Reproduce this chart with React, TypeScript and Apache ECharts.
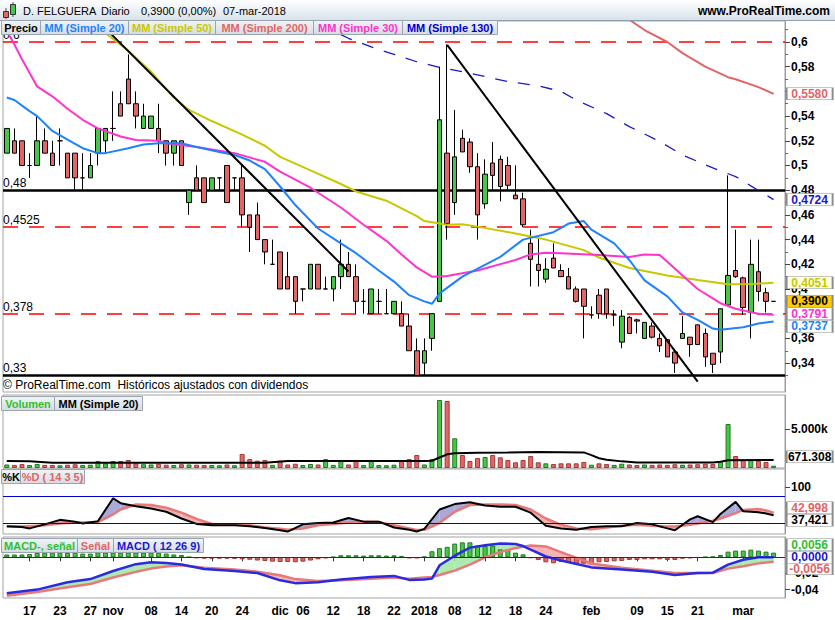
import React, { useEffect, useRef } from "react";
import * as echarts from "echarts";

const FONT = "'Liberation Sans', Arial, Helvetica, sans-serif";

// ---- trading days (Oct 12 2017 .. Mar 7 2018) ----
const OCT_DAYS = [12, 13, 16, 17, 18, 19, 20, 23, 24, 25, 26, 27, 30, 31];
const NOV_DAYS = [1, 2, 3, 6, 7, 8, 9, 10, 13, 14, 15, 16, 17, 20, 21, 22, 23, 24, 27, 28, 29, 30];
const DEC_DAYS = [1, 4, 5, 6, 7, 8, 11, 12, 13, 14, 15, 18, 19, 20, 21, 22, 27, 28, 29];
const JAN_DAYS = [2, 3, 4, 5, 8, 9, 10, 11, 12, 15, 16, 17, 18, 19, 22, 23, 24, 25, 26, 29, 30, 31];
const FEB_DAYS = [1, 2, 5, 6, 7, 8, 9, 12, 13, 14, 15, 16, 19, 20, 21, 22, 23, 26, 27, 28];
const MAR_DAYS = [1, 2, 5, 6, 7];

const pad = (d: number) => (d < 10 ? "0" + d : "" + d);
const DATES: string[] = [
  ...OCT_DAYS.map((d) => `2017-10-${pad(d)}`),
  ...NOV_DAYS.map((d) => `2017-11-${pad(d)}`),
  ...DEC_DAYS.map((d) => `2017-12-${pad(d)}`),
  ...JAN_DAYS.map((d) => `2018-01-${pad(d)}`),
  ...FEB_DAYS.map((d) => `2018-02-${pad(d)}`),
  ...MAR_DAYS.map((d) => `2018-03-${pad(d)}`),
];
const CATEGORIES = [...DATES, ""];

const AXIS_LABELS: [string, string][] = [
  ["2017-10-17", "17"], ["2017-10-23", "23"], ["2017-10-27", "27"], ["2017-11-01", "nov"],
  ["2017-11-08", "08"], ["2017-11-14", "14"], ["2017-11-20", "20"], ["2017-11-24", "24"],
  ["2017-12-01", "dic"], ["2017-12-06", "06"], ["2017-12-12", "12"], ["2017-12-18", "18"],
  ["2017-12-22", "22"], ["2018-01-02", "2018"], ["2018-01-08", "08"], ["2018-01-12", "12"],
  ["2018-01-18", "18"], ["2018-01-24", "24"], ["2018-02-01", "feb"], ["2018-02-09", "09"],
  ["2018-02-15", "15"], ["2018-02-21", "21"], ["2018-03-01", "mar"],
];

// ---- price ----
const OPENS = [
  0.51, 0.52, 0.52, 0.50, 0.50, 0.52, 0.51, 0.52, 0.51, 0.51,
  0.49, 0.49, 0.51, 0.52, 0.53, 0.55, 0.57, 0.55, 0.53, 0.53,
  0.53, 0.52, 0.51, 0.52, 0.47, 0.49, 0.49, 0.48, 0.49, 0.50,
  0.49, 0.49, 0.46, 0.46, 0.44, 0.42, 0.43, 0.41, 0.41, 0.40,
  0.40, 0.42, 0.40, 0.40, 0.41, 0.42, 0.41, 0.39, 0.38, 0.39,
  0.38, 0.38, 0.38, 0.37, 0.35, 0.34, 0.36, 0.39, 0.51, 0.47,
  0.522, 0.519, 0.499, 0.469, 0.502, 0.505, 0.50, 0.476, 0.473, 0.437,
  0.420, 0.408, 0.425, 0.415, 0.410, 0.40, 0.40, 0.379, 0.395, 0.40,
  0.379, 0.357, 0.377, 0.375, 0.36, 0.37, 0.36, 0.359, 0.349, 0.36,
  0.361, 0.371, 0.364, 0.348, 0.349, 0.387, 0.415, 0.409, 0.381, 0.414,
  0.397, 0.39,
];
const HIGHS = [
  0.53, 0.53, 0.52, 0.51, 0.54, 0.53, 0.52, 0.53, 0.51, 0.51,
  0.51, 0.51, 0.53, 0.53, 0.56, 0.56, 0.59, 0.56, 0.55, 0.54,
  0.55, 0.52, 0.52, 0.52, 0.48, 0.50, 0.49, 0.49, 0.49, 0.50,
  0.49, 0.50, 0.46, 0.47, 0.44, 0.44, 0.43, 0.43, 0.41, 0.40,
  0.42, 0.42, 0.41, 0.41, 0.44, 0.43, 0.42, 0.40, 0.40, 0.40,
  0.40, 0.39, 0.39, 0.38, 0.36, 0.36, 0.38, 0.58, 0.598, 0.545,
  0.529, 0.522, 0.51, 0.505, 0.519, 0.508, 0.507, 0.50, 0.478, 0.448,
  0.442, 0.425, 0.437, 0.420, 0.417, 0.402, 0.40, 0.386, 0.40, 0.40,
  0.383, 0.383, 0.378, 0.376, 0.373, 0.373, 0.364, 0.359, 0.349, 0.378,
  0.361, 0.371, 0.368, 0.348, 0.384, 0.492, 0.448, 0.41, 0.44, 0.44,
  0.401, 0.39,
];
const LOWS = [
  0.51, 0.51, 0.50, 0.49, 0.50, 0.51, 0.50, 0.50, 0.49, 0.48,
  0.48, 0.49, 0.50, 0.51, 0.52, 0.54, 0.55, 0.53, 0.53, 0.53,
  0.51, 0.50, 0.50, 0.50, 0.46, 0.48, 0.47, 0.48, 0.48, 0.47,
  0.48, 0.45, 0.43, 0.44, 0.42, 0.42, 0.40, 0.40, 0.38, 0.39,
  0.40, 0.40, 0.40, 0.39, 0.40, 0.41, 0.38, 0.38, 0.38, 0.38,
  0.38, 0.38, 0.37, 0.35, 0.33, 0.33, 0.35, 0.39, 0.44, 0.46,
  0.511, 0.494, 0.44, 0.465, 0.48, 0.471, 0.48, 0.473, 0.45, 0.402,
  0.402, 0.405, 0.417, 0.410, 0.40, 0.389, 0.36, 0.376, 0.376, 0.376,
  0.37, 0.352, 0.364, 0.364, 0.36, 0.36, 0.349, 0.345, 0.332, 0.36,
  0.345, 0.355, 0.337, 0.332, 0.34, 0.387, 0.409, 0.379, 0.36, 0.39,
  0.381, 0.39,
];
const CLOSES = [
  0.53, 0.51, 0.50, 0.50, 0.52, 0.51, 0.50, 0.52, 0.49, 0.49,
  0.49, 0.50, 0.53, 0.53, 0.53, 0.54, 0.55, 0.54, 0.54, 0.54,
  0.52, 0.51, 0.52, 0.50, 0.48, 0.48, 0.47, 0.49, 0.49, 0.47,
  0.49, 0.46, 0.45, 0.44, 0.43, 0.42, 0.40, 0.40, 0.39, 0.40,
  0.42, 0.40, 0.40, 0.41, 0.42, 0.41, 0.39, 0.39, 0.40, 0.39,
  0.38, 0.39, 0.37, 0.35, 0.33, 0.35, 0.38, 0.537, 0.453, 0.507,
  0.511, 0.499, 0.46, 0.493, 0.492, 0.483, 0.484, 0.473, 0.452, 0.424,
  0.415, 0.416, 0.417, 0.410, 0.40, 0.39, 0.386, 0.379, 0.38, 0.38,
  0.379, 0.378, 0.364, 0.374, 0.373, 0.361, 0.354, 0.345, 0.34, 0.364,
  0.355, 0.355, 0.345, 0.339, 0.384, 0.411, 0.410, 0.385, 0.42, 0.398,
  0.39, 0.39,
];

// moving averages, [day index, value]
const MM20 = [
  [0, 0.555], [1, 0.553], [3, 0.544], [4, 0.54], [6, 0.528], [8, 0.521], [10, 0.514], [12, 0.51],
  [13, 0.51], [16, 0.514], [18, 0.517], [20, 0.518], [23, 0.518], [25, 0.515], [28, 0.511],
  [30, 0.5085], [32, 0.504], [34, 0.497], [36, 0.483], [38, 0.468], [41, 0.449], [44, 0.437],
  [46, 0.429], [49, 0.415], [51, 0.406], [53, 0.395], [55, 0.39], [56, 0.388], [57, 0.3965],
  [60, 0.41], [65, 0.426], [68, 0.44], [72, 0.446], [74, 0.453], [76, 0.455], [77, 0.448],
  [80, 0.437], [82, 0.4235], [84, 0.407], [87, 0.394], [89, 0.381], [91, 0.375], [93, 0.368],
  [94, 0.367], [97, 0.369], [99, 0.372], [101, 0.3737],
];
const MM30 = [
  [0, 0.609], [1, 0.598], [2, 0.586], [4, 0.564], [6, 0.556], [8, 0.546], [10, 0.537], [12, 0.53],
  [15, 0.5235], [17, 0.5206], [20, 0.52], [21, 0.518], [25, 0.515], [30, 0.51], [34, 0.503],
  [36, 0.495], [40, 0.482], [44, 0.466], [47, 0.452], [50, 0.439], [52, 0.428], [54, 0.4175],
  [56, 0.41], [58, 0.4105], [62, 0.415], [67, 0.4235], [69, 0.428], [71, 0.4294], [73, 0.4289],
  [78, 0.4275], [82, 0.426], [84, 0.428], [86, 0.4275], [87, 0.422], [89, 0.411], [91, 0.4],
  [94, 0.3885], [96, 0.384], [99, 0.38], [101, 0.3791],
];
const MM50 = [
  [12, 0.612], [16, 0.593], [19, 0.576], [22, 0.555], [24, 0.545], [27, 0.536], [31, 0.525],
  [34, 0.516], [36, 0.507], [40, 0.496], [44, 0.485], [46, 0.479], [50, 0.4715], [54, 0.459],
  [55, 0.455], [58, 0.452], [60, 0.4524], [62, 0.4505], [67, 0.445], [71, 0.44], [76, 0.4315],
  [78, 0.4255], [82, 0.417], [87, 0.411], [91, 0.4073], [95, 0.4038], [98, 0.404], [101, 0.4051],
];
const MM130 = [
  [44, 0.606], [45, 0.603], [48, 0.596], [51, 0.59], [54, 0.584], [57, 0.5795], [60, 0.576],
  [63, 0.572], [66, 0.568], [70, 0.5645], [73, 0.56], [75, 0.553], [79, 0.542], [82, 0.5315],
  [86, 0.5195], [89, 0.5085], [93, 0.498], [96, 0.491], [98, 0.4835], [101, 0.4724],
];
const MM200 = [
  [82, 0.618], [84, 0.6097], [87, 0.6], [89, 0.591], [92, 0.58], [95, 0.5715], [96, 0.5698],
  [99, 0.5635], [101, 0.558],
];

const TREND_LINE_1 = [[13, 0.611], [45, 0.4142]];
const TREND_LINE_2 = [[58, 0.5976], [91, 0.325]];
const DASHED_LEVELS = [0.6, 0.4525, 0.378];
const DASHED_LABELS = ["0,6", "0,4525", "0,378"];
const SOLID_LEVELS = [0.48, 0.33];
const SOLID_LABELS = ["0,48", "0,33"];

// ---- volume (thousands) ----
const VOLUMES = [
  450, 400, 500, 380, 520, 400, 380, 350, 420, 480,
  380, 420, 900, 600, 900, 900, 1030, 600, 480, 450,
  550, 420, 380, 480, 450, 420, 380, 380, 350, 450,
  350, 1800, 1150, 940, 1030, 400, 940, 450, 550, 380,
  520, 450, 1150, 400, 940, 450, 1030, 380, 1030, 380,
  350, 420, 940, 1150, 1670, 450, 1150, 8720, 8590, 3810,
  1670, 900, 1280, 1410, 1670, 1370, 1030, 730, 1030, 1540,
  730, 600, 510, 600, 600, 600, 770, 420, 600, 500,
  400, 550, 450, 380, 450, 400, 450, 400, 480, 420,
  450, 480, 550, 500, 900, 5640, 1540, 1030, 1110, 940,
  770, 300,
];
const VOLUME_MA20 = [
  [0, 900], [3, 850], [6, 680], [34, 680], [37, 900], [55, 900], [56, 930], [57, 1350],
  [58, 1750], [59, 1880], [62, 1960], [66, 2000], [70, 2050], [76, 2000], [77, 1650],
  [78, 1250], [79, 1050], [81, 850], [83, 720], [93, 700], [94, 800], [95, 1000], [101, 1025],
];

// ---- stochastic [day, %K, %D] ----
const STOCH = [
  [0, 13, 12], [2, 11, 12], [3, 8, 13], [5, 17, 15], [7, 27, 19], [9, 23, 21], [10, 19, 21],
  [12, 24, 22], [14, 75, 39], [15, 64, 50], [17, 57, 61], [19, 52, 60], [21, 45, 54], [23, 30, 43],
  [25, 18, 29], [27, 15, 18], [30, 15, 17], [32, 13, 15], [34, 9, 10], [36, 4, 7], [37, 1, 5],
  [39, 17, 8], [41, 20, 15], [43, 21, 18], [45, 31, 21], [47, 23, 23], [49, 23, 22], [51, 10, 15],
  [53, 5, 8], [54, 1, 4.4], [55, 7, 5], [57, 50, 20], [59, 62, 45], [61, 66, 60], [63, 59, 61],
  [65, 56, 61], [67, 56, 60], [69, 43, 50], [71, 14, 30], [73, 8, 16], [75, 5, 8], [77, 11, 6],
  [79, 13, 10], [81, 13, 14], [83, 20, 16], [85, 17, 14], [87, 8, 12], [88, 4, 12], [90, 28, 16],
  [91, 35, 19], [93, 22, 25], [94, 40, 30], [96, 67, 42], [97, 46, 49], [99, 44, 51], [100, 41, 48],
  [101, 37.421, 42.998],
];
const STOCH_BANDS = [80, 20];

// ---- MACD [day, macd, signal] ----
const MACD = [
  [0, -0.0445, -0.0475], [4, -0.04, -0.043], [8, -0.031, -0.037], [11, -0.027, -0.033],
  [14, -0.017, -0.025], [17, -0.0085, -0.018], [19, -0.0062, -0.014], [21, -0.007, -0.0115],
  [23, -0.009, -0.0099], [26, -0.0145, -0.0128], [30, -0.017, -0.015], [33, -0.0195, -0.0178],
  [36, -0.0285, -0.0223], [38, -0.032, -0.027], [41, -0.031, -0.0294], [44, -0.0275, -0.0285],
  [48, -0.0245, -0.0265], [51, -0.023, -0.025], [53, -0.028, -0.0265], [55, -0.0275, -0.025],
  [56, -0.0264, -0.0244], [57, -0.0099, -0.022], [59, 0.002, -0.0165], [61, 0.012, -0.009],
  [63, 0.015, 0.0], [65, 0.0172, 0.0066], [67, 0.0165, 0.0115], [68, 0.014, 0.013],
  [69, 0.0095, 0.0145], [71, 0.001, 0.0135], [73, -0.004, 0.0065], [77, -0.0125, -0.0075],
  [81, -0.015, -0.013], [85, -0.018, -0.0165], [88, -0.022, -0.0195], [91, -0.0195, -0.0195],
  [93, -0.019, -0.0195], [95, -0.009, -0.014], [97, -0.003, -0.011], [99, 0.0, -0.0075],
  [101, 0.0, -0.0056],
];
const MACD_HIST = [
  0.0035, 0.0035, 0.0035, 0.004, 0.0054, 0.0058, 0.0058, 0.0058, 0.0054, 0.0058,
  0.0046, 0.0046, 0.006, 0.006, 0.006, 0.006, 0.006, 0.006, 0.006, 0.006,
  0.0058, 0.0046, 0.0035, 0.0029, 0.0004, -0.001, -0.0017, -0.0017, -0.0017, -0.0017,
  -0.002, -0.0025, -0.003, -0.004, -0.0046, -0.0054, -0.0058, -0.0058, -0.0062, -0.0054,
  -0.004, -0.0025, -0.0012, 0.0004, 0.0025, 0.0025, 0.0025, 0.0021, 0.0025, 0.0025,
  0.0021, 0.0025, 0.0017, -0.0012, -0.0012, 0.0008, 0.0075, 0.0113, 0.013, 0.017,
  0.0185, 0.0185, 0.0145, 0.014, 0.0145, 0.0099, 0.0099, 0.0058, 0.0037, -0.0008,
  -0.0033, -0.0062, -0.0074, -0.0058, -0.0066, -0.0078, -0.0078, -0.0087, -0.0062, -0.0058,
  -0.005, -0.0045, -0.0033, -0.0033, -0.0025, -0.0025, -0.0025, -0.0033, -0.0033, -0.0017,
  -0.0012, -0.0004, 0.0004, 0.0008, 0.0029, 0.007, 0.0083, 0.0083, 0.0095, 0.0083,
  0.007, 0.0058,
];

// axis tick values (labels hidden under the value boxes are left out, as in the reference)
const PRICE_LABELS = [0.34, 0.36, 0.4, 0.42, 0.44, 0.46, 0.48, 0.5, 0.52, 0.54, 0.58, 0.6];
const PRICE_TICKS = [0.34, 0.36, 0.38, 0.4, 0.42, 0.44, 0.46, 0.48, 0.5, 0.52, 0.54, 0.56, 0.58, 0.6];
const PRICE_MINOR = [0.33, 0.35, 0.37, 0.39, 0.41, 0.43, 0.45, 0.47, 0.49, 0.51, 0.53, 0.55, 0.57, 0.59, 0.61];
const VOLUME_LABELS = [5000];
const STOCH_LABELS = [100];
const MACD_LABELS = [-0.04, -0.02];

const LAST = 101;

const GREEN = "#46C846";
const GREEN_TXT = "#2FC02F";
const RED = "#E26666";
const C_MM20 = "#1E82FF";
const C_MM50 = "#C8C800";
const C_MM200 = "#E06666";
const C_MM30 = "#FF33CC";
const C_MM130 = "#1A1ACC";

function tag(coord: number[], text: string, color: string, bg = "#ffffff", dy = 0) {
  return {
    coord,
    value: text,
    symbol: "rect",
    symbolSize: [46, 12],
    symbolOffset: [36, dy],
    itemStyle: { color: bg, borderColor: "#8c8c8c", borderWidth: 1 },
    label: {
      show: true,
      position: "inside",
      formatter: text,
      color,
      fontSize: 12,
      fontWeight: "bold",
      fontFamily: FONT,
    },
  };
}

function band(pts: number[][], up: string, down: string, xi: number, yi: number) {
  return {
    type: "custom",
    xAxisIndex: xi,
    yAxisIndex: yi,
    silent: true,
    z: 1,
    data: pts.slice(0, -1).map((p) => [p[0], p[1]]),
    encode: { x: 0, y: 1 },
    renderItem: (params: any, api: any) => {
      const k = params.dataIndex;
      const p = pts[k];
      const q = pts[k + 1];
      const a0 = api.coord([p[0], p[1]]);
      const b0 = api.coord([p[0], p[2]]);
      const a1 = api.coord([q[0], q[1]]);
      const b1 = api.coord([q[0], q[2]]);
      const d0 = p[1] - p[2];
      const d1 = q[1] - q[2];
      const poly = (points: number[][], fill: string) => ({
        type: "polygon",
        shape: { points },
        style: { fill },
        silent: true,
      });
      if (d0 * d1 >= 0) return poly([a0, a1, b1, b0], d0 + d1 >= 0 ? up : down);
      const t = d0 / (d0 - d1);
      const m = [a0[0] + (a1[0] - a0[0]) * t, a0[1] + (a1[1] - a0[1]) * t];
      return {
        type: "group",
        children: [poly([a0, m, b0], d0 > 0 ? up : down), poly([m, a1, b1], d1 > 0 ? up : down)],
      };
    },
  };
}

function legendBoxes(y: number, items: [number, number, string, string][]) {
  const grad = new echarts.graphic.LinearGradient(0, 0, 0, 1, [
    { offset: 0, color: "#F1F4F7" },
    { offset: 1, color: "#D4DCE4" },
  ]);
  const out: any[] = [];
  items.forEach(([x, w, text, color]) => {
    out.push({
      type: "rect",
      z: 100,
      shape: { x: x + 0.5, y: y + 0.5, width: w, height: 14 },
      style: { fill: grad, stroke: "#9BA5AF", lineWidth: 1 },
    });
    out.push({
      type: "text",
      z: 101,
      x: x + w / 2 + 0.5,
      y: y + 8,
      style: { text, fill: color, font: `bold 11px ${FONT}`, align: "center", verticalAlign: "middle" },
    });
  });
  return out;
}

export default function App() {
  const ref = useRef<HTMLDivElement>(null);

  useEffect(() => {
    if (!ref.current) return;
    const chart = echarts.init(ref.current, undefined, { renderer: "svg" });

    const labelMap: Record<string, string> = {};
    AXIS_LABELS.forEach(([d, l]) => (labelMap[d] = l));

    const candles = DATES.map((_, i) => [OPENS[i], CLOSES[i], LOWS[i], HIGHS[i]]);
    const volData = VOLUMES.map((v, i) => {
      const up = CLOSES[i] >= OPENS[i];
      return {
        value: v,
        itemStyle: { color: up ? GREEN : RED, borderColor: up ? "#1F7A1F" : "#A33A3A", borderWidth: 1 },
      };
    });
    const histData = MACD_HIST.map((v) => ({
      value: v,
      itemStyle: { color: v >= 0 ? GREEN : RED, borderColor: v >= 0 ? "#1F7A1F" : "#A33A3A", borderWidth: 1 },
    }));

    const grids = [
      { top: 21, height: 371 },
      { top: 395, height: 73 },
      { top: 469, height: 65 },
      { top: 537, height: 61 },
    ].map((g) => ({
      left: 3,
      right: 50,
      top: g.top,
      height: g.height,
      show: true,
      borderColor: "#A3A3A3",
      borderWidth: 1,
      backgroundColor: "transparent",
      containLabel: false,
      outerBoundsMode: "none",
    }));

    const xAxes = [0, 1, 2, 3].map((gi) => ({
      type: "category",
      gridIndex: gi,
      data: CATEGORIES,
      boundaryGap: true,
      show: gi === 3,
      axisLine: { show: false },
      axisTick: {
        show: gi === 3,
        alignWithLabel: true,
        length: 4,
        interval: (_i: number, v: string) => !!labelMap[v],
        lineStyle: { color: "#333" },
      },
      axisLabel: {
        show: gi === 3,
        interval: (_i: number, v: string) => !!labelMap[v],
        formatter: (v: string) => labelMap[v] || "",
        color: "#000",
        fontSize: 12,
        fontWeight: "bold",
        fontFamily: FONT,
        margin: 7,
      },
      splitLine: { show: false },
    }));

    const yAxis = (gi: number, min: number, max: number, labels: number[], fmt: any, ticks?: number[]) => ({
      type: "value",
      gridIndex: gi,
      position: "right",
      min,
      max,
      splitLine: { show: false },
      axisLine: { show: true, lineStyle: { color: "#9A9A9A" } },
      axisTick: { show: true, length: 5, customValues: ticks || labels, lineStyle: { color: "#444" } },
      axisLabel: {
        show: true,
        customValues: labels,
        formatter: fmt,
        color: "#000",
        fontSize: 12,
        fontWeight: "bold",
        fontFamily: FONT,
        margin: 6,
      },
    });

    const priceFmt = (v: number) => String(Number(v.toFixed(2))).replace(".", ",");
    const yAxes = [
      yAxis(0, 0.3166, 0.617, PRICE_LABELS, priceFmt, PRICE_TICKS),
      yAxis(1, 0, 9359, VOLUME_LABELS, () => "5.000k"),
      yAxis(2, -4.44, 140, STOCH_LABELS, (v: number) => String(v)),
      yAxis(3, -0.0504, 0.02515, MACD_LABELS, (v: number) => v.toFixed(2).replace(".", ",")),
      {
        type: "value",
        gridIndex: 0,
        position: "right",
        min: 0.3166,
        max: 0.617,
        splitLine: { show: false },
        axisLine: { show: false },
        axisLabel: { show: false },
        axisTick: { show: true, length: 3, customValues: PRICE_MINOR, lineStyle: { color: "#666" } },
      },
    ];

    const lineS = (name: string, data: number[][], color: string, width: number, xi: number, yi: number, extra: any = {}) => ({
      name,
      type: "line",
      xAxisIndex: xi,
      yAxisIndex: yi,
      data,
      symbol: "none",
      silent: true,
      clip: true,
      z: 3,
      lineStyle: { color, width },
      ...extra,
    });

    const levelLines = [
      ...DASHED_LEVELS.map((v, k) => ({
        yAxis: v,
        lineStyle: { color: "#FF0000", width: 1.5, type: [15, 11] },
        label: { formatter: DASHED_LABELS[k] },
      })),
      ...SOLID_LEVELS.map((v, k) => ({
        yAxis: v,
        lineStyle: { color: "#000", width: 2.5, type: "solid" },
        label: { formatter: SOLID_LABELS[k] },
      })),
    ];

    const series: any[] = [
      {
        name: "Precio",
        type: "candlestick",
        xAxisIndex: 0,
        yAxisIndex: 0,
        data: candles,
        barWidth: 5,
        z: 2,
        silent: true,
        itemStyle: {
          color: GREEN,
          color0: RED,
          borderColor: "#000",
          borderColor0: "#000",
          borderColorDoji: "#000",
          borderWidth: 1,
        },
        markLine: {
          silent: true,
          symbol: ["none", "none"],
          z: 1,
          label: {
            show: true,
            position: "insideStartTop",
            distance: [0, 1],
            color: "#000",
            fontSize: 12,
            fontFamily: FONT,
          },
          data: levelLines,
        },
        markPoint: { silent: true, z: 10, data: [tag([LAST, 0.39], "0,3900", "#000", "#FFCC00", 0)] },
      },
      lineS("MM200", MM200, C_MM200, 2, 0, 0, {
        markPoint: { silent: true, z: 10, data: [tag([LAST, 0.558], "0,5580", C_MM200)] },
      }),
      lineS("MM130", MM130, C_MM130, 1.3, 0, 0, {
        lineStyle: { color: C_MM130, width: 1.3, type: [12, 11] },
        markPoint: { silent: true, z: 10, data: [tag([LAST, 0.4724], "0,4724", C_MM130)] },
      }),
      lineS("MM50", MM50, C_MM50, 2, 0, 0, {
        markPoint: { silent: true, z: 10, data: [tag([LAST, 0.4051], "0,4051", C_MM50, "#FFFFE6")] },
      }),
      lineS("MM30", MM30, C_MM30, 2, 0, 0, {
        markPoint: { silent: true, z: 10, data: [tag([LAST, 0.3791], "0,3791", C_MM30, "#fff", -1)] },
      }),
      lineS("MM20", MM20, C_MM20, 2, 0, 0, {
        markPoint: { silent: true, z: 10, data: [tag([LAST, 0.3737], "0,3737", C_MM20, "#fff", 5)] },
      }),
      lineS("Trend1", TREND_LINE_1, "#000", 2, 0, 0, { z: 4 }),
      lineS("Trend2", TREND_LINE_2, "#000", 2, 0, 0, { z: 4 }),
      {
        name: "Volumen",
        type: "bar",
        xAxisIndex: 1,
        yAxisIndex: 1,
        data: volData,
        barWidth: 5,
        silent: true,
        z: 2,
      },
      lineS("VolMA", VOLUME_MA20, "#000", 2, 1, 1, {
        markPoint: { silent: true, z: 10, data: [tag([LAST, 671.308], "671.308", "#000", "#fff", -6)] },
      }),
      band(STOCH, "#A9A9DA", "#F3B2B2", 2, 2),
      lineS("%D", STOCH.map((p) => [p[0], p[2]]), "#E67A7A", 2.5, 2, 2, {
        markPoint: { silent: true, z: 10, data: [tag([LAST, 42.998], "42,998", "#E06666", "#fff", -5)] },
      }),
      lineS("%K", STOCH.map((p) => [p[0], p[1]]), "#000", 2, 2, 2, {
        z: 4,
        markLine: {
          silent: true,
          symbol: ["none", "none"],
          label: { show: false },
          lineStyle: { color: "#0000CC", width: 1, type: "solid" },
          data: STOCH_BANDS.map((v) => ({ yAxis: v })),
        },
        markPoint: { silent: true, z: 10, data: [tag([LAST, 37.421], "37,421", "#000", "#fff", 5)] },
      }),
      {
        name: "MACD hist",
        type: "bar",
        xAxisIndex: 3,
        yAxisIndex: 3,
        data: histData,
        barWidth: 5,
        silent: true,
        z: 2,
        markPoint: { silent: true, z: 10, data: [tag([LAST, 0.0056], "0,0056", GREEN_TXT, "#fff", -8)] },
      },
      band(MACD, "#AEEAAE", "#F3B4B4", 3, 3),
      lineS("Señal", MACD.map((p) => [p[0], p[2]]), "#E67A7A", 2.5, 3, 3, {
        markPoint: { silent: true, z: 10, data: [tag([LAST, -0.0056], "-0,0056", "#E06666", "#fff", 7)] },
      }),
      lineS("MACD", MACD.map((p) => [p[0], p[1]]), "#2A2AE0", 2.5, 3, 3, {
        z: 4,
        markLine: {
          silent: true,
          symbol: ["none", "none"],
          label: { show: false },
          lineStyle: { color: "#1A1ACC", width: 1, type: "solid" },
          data: [{ yAxis: 0 }],
        },
        markPoint: { silent: true, z: 10, data: [tag([LAST, 0], "0,0000", "#1A1ACC", "#fff", 0)] },
      }),
    ];

    const headerGrad = new echarts.graphic.LinearGradient(0, 0, 0, 1, [
      { offset: 0, color: "#FFFFFF" },
      { offset: 1, color: "#D6E1EA" },
    ]);

    const hdr = (x: number, text: string, bold = false, align = "left") => ({
      type: "text",
      z: 95,
      x,
      y: 11,
      style: { text, fill: "#000", font: `${bold ? "bold " : ""}11px ${FONT}`, align, verticalAlign: "middle" },
    });

    const graphic: any[] = [
      { type: "rect", z: 90, shape: { x: 0, y: 0, width: 835, height: 21 }, style: { fill: headerGrad } },
      { type: "line", z: 91, shape: { x1: 0, y1: 20.5, x2: 835, y2: 20.5 }, style: { stroke: "#8FA0B0", lineWidth: 1 } },
      // candlestick icon
      { type: "line", z: 92, shape: { x1: 6, y1: 8, x2: 6, y2: 19 }, style: { stroke: "#555", lineWidth: 1 } },
      { type: "rect", z: 93, shape: { x: 3.5, y: 11.5, width: 5, height: 6 }, style: { fill: RED, stroke: "#333", lineWidth: 1 } },
      { type: "line", z: 92, shape: { x1: 13, y1: 2, x2: 13, y2: 17 }, style: { stroke: "#555", lineWidth: 1 } },
      { type: "rect", z: 93, shape: { x: 10.5, y: 4.5, width: 5, height: 10 }, style: { fill: GREEN, stroke: "#333", lineWidth: 1 } },
      hdr(23, "D. FELGUERA"),
      hdr(101, "Diario"),
      hdr(141, "0,3900 (0,00%)"),
      hdr(223, "07-mar-2018"),
      { ...hdr(830, "www.ProRealTime.com", true, "right"), style: { text: "www.ProRealTime.com", fill: "#000", font: `bold 12px ${FONT}`, align: "right", verticalAlign: "middle" } },
      ...legendBoxes(20, [
        [1, 39, "Precio", "#000"],
        [40, 88, "MM (Simple 20)", C_MM20],
        [128, 87, "MM (Simple 50)", C_MM50],
        [215, 98, "MM (Simple 200)", C_MM200],
        [313, 89, "MM (Simple 30)", C_MM30],
        [402, 95, "MM (Simple 130)", "#0000CC"],
      ]),
      {
        type: "text",
        z: 95,
        x: 3,
        y: 385,
        style: { text: "© ProRealTime.com  Históricos ajustados con dividendos", fill: "#000", font: `12px ${FONT}`, verticalAlign: "middle" },
      },
      ...legendBoxes(396, [
        [1, 53, "Volumen", GREEN_TXT],
        [54, 88, "MM (Simple 20)", "#000"],
      ]),
      ...legendBoxes(469, [
        [1, 19, "%K", "#000"],
        [20, 64, "%D ( 14 3 5)", "#E06666"],
      ]),
      ...legendBoxes(538, [
        [1, 76, "MACD-, señal", GREEN_TXT],
        [77, 36, "Señal", "#E06666"],
        [113, 90, "MACD ( 12 26 9)", "#1A1ACC"],
      ]),
    ];

    chart.setOption({
      animation: false,
      backgroundColor: "#ffffff",
      textStyle: { fontFamily: FONT },
      grid: grids,
      xAxis: xAxes,
      yAxis: yAxes,
      series,
      graphic,
    });

    return () => chart.dispose();
  }, []);

  return (
    <div
      ref={ref}
      style={{ position: "absolute", left: 0, top: 0, width: 835, height: 620, background: "#fff" }}
    />
  );
}
